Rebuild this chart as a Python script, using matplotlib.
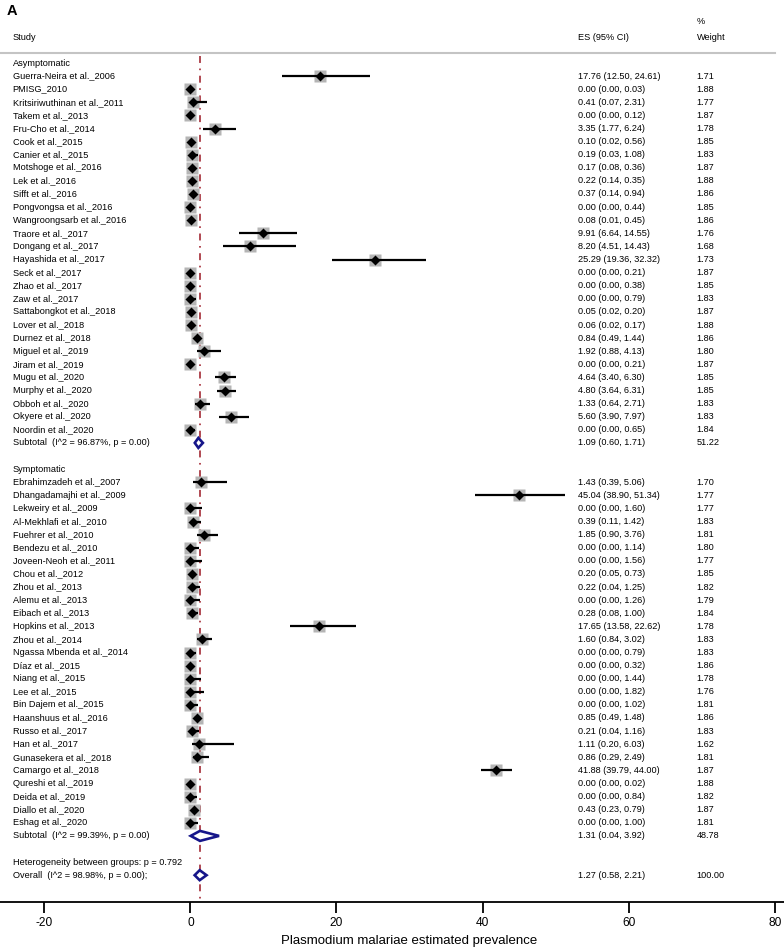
import matplotlib
matplotlib.use("Agg")
import numpy as np
from matplotlib import pyplot as plt
from matplotlib.patches import Polygon

plt.rcParams["font.family"] = ["Liberation Sans", "DejaVu Sans"]
plt.rcParams["lines.scale_dashes"] = False
plt.rcParams["axes.unicode_minus"] = False

# ---- data -----------------------------------------------------------------
asym_studies = [
    "Guerra-Neira et al._2006", "PMISG_2010", "Kritsiriwuthinan et al._2011",
    "Takem et al._2013", "Fru-Cho et al._2014", "Cook et al._2015",
    "Canier et al._2015", "Motshoge et al._2016", "Lek et al._2016",
    "Sifft et al._2016", "Pongvongsa et al._2016", "Wangroongsarb et al._2016",
    "Traore et al._2017", "Dongang et al._2017", "Hayashida et al._2017",
    "Seck et al._2017", "Zhao et al._2017", "Zaw et al._2017",
    "Sattabongkot et al._2018", "Lover et al._2018", "Durnez et al._2018",
    "Miguel et al._2019", "Jiram et al._2019", "Mugu et al._2020",
    "Murphy et al._2020", "Obboh et al._2020", "Okyere et al._2020",
    "Noordin et al._2020",
]
asym_es = [17.76, 0.00, 0.41, 0.00, 3.35, 0.10, 0.19, 0.17, 0.22, 0.37, 0.00, 0.08,
           9.91, 8.20, 25.29, 0.00, 0.00, 0.00, 0.05, 0.06, 0.84, 1.92, 0.00, 4.64,
           4.80, 1.33, 5.60, 0.00]
asym_lo = [12.50, 0.00, 0.07, 0.00, 1.77, 0.02, 0.03, 0.08, 0.14, 0.14, 0.00, 0.01,
           6.64, 4.51, 19.36, 0.00, 0.00, 0.00, 0.02, 0.02, 0.49, 0.88, 0.00, 3.40,
           3.64, 0.64, 3.90, 0.00]
asym_hi = [24.61, 0.03, 2.31, 0.12, 6.24, 0.56, 1.08, 0.36, 0.35, 0.94, 0.44, 0.45,
           14.55, 14.43, 32.32, 0.21, 0.38, 0.79, 0.20, 0.17, 1.44, 4.13, 0.21, 6.30,
           6.31, 2.71, 7.97, 0.65]
asym_w = [1.71, 1.88, 1.77, 1.87, 1.78, 1.85, 1.83, 1.87, 1.88, 1.86, 1.85, 1.86,
          1.76, 1.68, 1.73, 1.87, 1.85, 1.83, 1.87, 1.88, 1.86, 1.80, 1.87, 1.85,
          1.85, 1.83, 1.83, 1.84]
asym_sub = (1.09, 0.60, 1.71, 51.22, "Subtotal  (I^2 = 96.87%, p = 0.00)")

sym_studies = [
    "Ebrahimzadeh et al._2007", "Dhangadamajhi et al._2009", "Lekweiry et al._2009",
    "Al-Mekhlafi et al._2010", "Fuehrer et al._2010", "Bendezu et al._2010",
    "Joveen-Neoh et al._2011", "Chou et al._2012", "Zhou et al._2013",
    "Alemu et al._2013", "Eibach et al._2013", "Hopkins et al._2013",
    "Zhou et al._2014", "Ngassa Mbenda et al._2014", "Díaz et al._2015",
    "Niang et al._2015", "Lee et al._2015", "Bin Dajem et al._2015",
    "Haanshuus et al._2016", "Russo et al._2017", "Han et al._2017",
    "Gunasekera et al._2018", "Camargo et al._2018", "Qureshi et al._2019",
    "Deida et al._2019", "Diallo et al._2020", "Eshag et al._2020",
]
sym_es = [1.43, 45.04, 0.00, 0.39, 1.85, 0.00, 0.00, 0.20, 0.22, 0.00, 0.28, 17.65,
          1.60, 0.00, 0.00, 0.00, 0.00, 0.00, 0.85, 0.21, 1.11, 0.86, 41.88, 0.00,
          0.00, 0.43, 0.00]
sym_lo = [0.39, 38.90, 0.00, 0.11, 0.90, 0.00, 0.00, 0.05, 0.04, 0.00, 0.08, 13.58,
          0.84, 0.00, 0.00, 0.00, 0.00, 0.00, 0.49, 0.04, 0.20, 0.29, 39.79, 0.00,
          0.00, 0.23, 0.00]
sym_hi = [5.06, 51.34, 1.60, 1.42, 3.76, 1.14, 1.56, 0.73, 1.25, 1.26, 1.00, 22.62,
          3.02, 0.79, 0.32, 1.44, 1.82, 1.02, 1.48, 1.16, 6.03, 2.49, 44.00, 0.02,
          0.84, 0.79, 1.00]
sym_w = [1.70, 1.77, 1.77, 1.83, 1.81, 1.80, 1.77, 1.85, 1.82, 1.79, 1.84, 1.78,
         1.83, 1.83, 1.86, 1.78, 1.76, 1.81, 1.86, 1.83, 1.62, 1.81, 1.87, 1.88,
         1.82, 1.87, 1.81]
sym_sub = (1.31, 0.04, 3.92, 48.78, "Subtotal  (I^2 = 99.39%, p = 0.00)")

overall = (1.27, 0.58, 2.21, 100.00, "Overall  (I^2 = 98.98%, p = 0.00);")
heterogeneity = "Heterogeneity between groups: p = 0.792"

groups = [
    ("Asymptomatic", asym_studies, asym_es, asym_lo, asym_hi, asym_w, asym_sub),
    ("Symptomatic", sym_studies, sym_es, sym_lo, sym_hi, sym_w, sym_sub),
]

xticks = [-20, 0, 20, 40, 60, 80]
xlabel = "Plasmodium malariae estimated prevalence"

# ---- layout (y in pixels from the top) ------------------------------------
W, H = 784, 949
ROW0, ROWH = 63, 13.1
AXIS_Y = 902
FS = 6.6
X_LABEL, X_ES, X_W = 12.7 / W, 577.7 / W, 696.7 / W
NAVY = "#16168a"


def row_y(i):
    return ROW0 + ROWH * i


def diamond(ax, es, lo, hi, y, h=5.0):
    ax.add_patch(Polygon([(lo, y), (es, y - h), (hi, y), (es, y + h)], closed=True,
                         facecolor="white", edgecolor=NAVY, lw=1.9, zorder=4))


def main():
    fig = plt.figure(figsize=(W / 100, H / 100), dpi=100)
    ax = fig.add_axes([0, (H - AXIS_Y) / H, 1, AXIS_Y / H])
    px = 7.3
    ax.set_xlim(-20 - 44.3 / px, 80 + (W - 190.7 - 80 * px) / px)
    ax.set_ylim(AXIS_Y, 0)
    for s in ["top", "left", "right"]:
        ax.spines[s].set_visible(False)
    ax.spines["bottom"].set_linewidth(1.3)
    ax.set_yticks([])
    ax.set_xticks(xticks)
    ax.tick_params(axis="x", length=8, width=1.3, labelsize=8.6, pad=3)
    ax.text(30, AXIS_Y + 39, xlabel, transform=ax.transData, ha="center",
            va="center", fontsize=9.5, clip_on=False)

    tl = ax.get_yaxis_transform()  # x axes fraction, y data
    ax.text(7 / W, 11, "A", transform=tl, fontsize=10.5, fontweight="bold", va="center")
    ax.text(X_LABEL, 37.3, "Study", transform=tl, fontsize=FS, va="center")
    ax.text(X_ES, 37.3, "ES (95% CI)", transform=tl, fontsize=FS, va="center")
    ax.text(X_W, 21.5, "%", transform=tl, fontsize=FS, va="center")
    ax.text(X_W, 37.3, "Weight", transform=tl, fontsize=FS, va="center")
    ax.plot([0, 775 / W], [53.3, 53.3], transform=tl, color="#c4c4c4", lw=1.5,
            clip_on=False)

    ax.plot([overall[0], overall[0]], [56, AXIS_Y], color="#a32a35", lw=1.2,
            linestyle=(0, (5, 4, 1.2, 4)), zorder=1)

    def row_text(y, label, es, lo, hi, w):
        ax.text(X_LABEL, y, label, transform=tl, fontsize=FS, va="center")
        ax.text(X_ES, y, f"{es:.2f} ({lo:.2f}, {hi:.2f})", transform=tl,
                fontsize=FS, va="center")
        ax.text(X_W, y, f"{w:.2f}", transform=tl, fontsize=FS, va="center")

    i = 0
    for name, studies, es, lo, hi, w, sub in groups:
        ax.text(X_LABEL, row_y(i), name, transform=tl, fontsize=FS, va="center")
        i += 1
        for k in range(len(studies)):
            y = row_y(i)
            ax.plot(es[k], y, marker="s", ms=9 * np.sqrt(w[k] / 1.88),
                    color="#b5b5b5", mec="none", zorder=2)
            ax.plot([lo[k], hi[k]], [y, y], color="black", lw=1.6,
                    solid_capstyle="butt", zorder=3)
            ax.plot(es[k], y, marker="D", ms=5, color="black", mec="none", zorder=3)
            row_text(y, studies[k], es[k], lo[k], hi[k], w[k])
            i += 1
        y = row_y(i)
        diamond(ax, sub[0], sub[1], sub[2], y)
        row_text(y, sub[4], sub[0], sub[1], sub[2], sub[3])
        i += 2

    ax.text(X_LABEL, row_y(i), heterogeneity, transform=tl, fontsize=FS, va="center")
    i += 1
    y = row_y(i)
    diamond(ax, overall[0], overall[1], overall[2], y)
    row_text(y, overall[4], overall[0], overall[1], overall[2], overall[3])

    fig.savefig("out.png", dpi=100)


if __name__ == "__main__":
    main()
